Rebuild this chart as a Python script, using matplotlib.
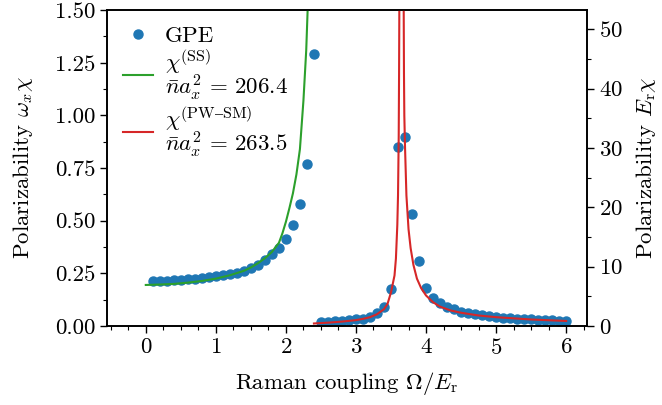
import matplotlib
matplotlib.use('Agg')
import matplotlib.pyplot as plt

plt.rcParams['font.family'] = 'serif'
plt.rcParams['font.serif'] = ['cmr10', 'DejaVu Serif']
plt.rcParams['mathtext.fontset'] = 'cm'
plt.rcParams['axes.formatter.use_mathtext'] = True
plt.rcParams['font.size'] = 16.5

# GPE polarizability (left axis units, omega_x chi)
gpe_omega_ss = [0.1, 0.2, 0.3, 0.4, 0.5, 0.6, 0.7, 0.8, 0.9, 1.0, 1.1, 1.2,
                1.3, 1.4, 1.5, 1.6, 1.7, 1.8, 1.9, 2.0, 2.1, 2.2, 2.3, 2.4]
gpe_chi_ss = [0.214, 0.214, 0.215, 0.217, 0.220, 0.222, 0.225, 0.228, 0.231,
              0.236, 0.241, 0.247, 0.253, 0.262, 0.275, 0.291, 0.313, 0.340,
              0.370, 0.414, 0.479, 0.580, 0.769, 1.290]
gpe_omega_pw = [2.5, 2.6, 2.7, 2.8, 2.9, 3.0, 3.1, 3.2, 3.3, 3.4, 3.5, 3.6,
                3.7, 3.8, 3.9, 4.0, 4.1, 4.2, 4.3, 4.4, 4.5, 4.6, 4.7, 4.8,
                4.9, 5.0, 5.1, 5.2, 5.3, 5.4, 5.5, 5.6, 5.7, 5.8, 5.9, 6.0]
gpe_chi_pw = [0.0175, 0.0205, 0.022, 0.025, 0.0285, 0.032, 0.035, 0.044,
              0.063, 0.092, 0.176, 0.851, 0.898, 0.532, 0.308, 0.182, 0.131,
              0.108, 0.090, 0.079, 0.068, 0.062, 0.055, 0.051, 0.046, 0.043,
              0.039, 0.036, 0.035, 0.033, 0.032, 0.030, 0.028, 0.027, 0.025,
              0.024]

# stripe-phase theory curve
ss_omega = [0.0, 0.2, 0.4, 0.6, 0.8, 1.0, 1.2, 1.4, 1.5, 1.6, 1.7, 1.8, 1.9,
            1.95, 2.0, 2.05, 2.1, 2.15, 2.2, 2.25, 2.29, 2.31, 2.34]
ss_chi = [0.195, 0.197, 0.200, 0.206, 0.214, 0.225, 0.241, 0.262, 0.278,
          0.298, 0.322, 0.352, 0.395, 0.440, 0.495, 0.560, 0.630, 0.720,
          0.840, 1.070, 1.310, 1.500, 2.000]

# plane-wave / single-minimum theory curve, two branches around the pole
pw_omega = [2.4, 2.6, 2.8, 3.0, 3.1, 3.2, 3.3, 3.4, 3.45, 3.5, 3.55, 3.57,
            3.59, 3.6, 3.61, 3.615, 3.62, 3.63, 3.67, 3.68, 3.685, 3.69,
            3.7, 3.72, 3.75, 3.78, 3.82, 3.87, 3.93, 4.0, 4.1, 4.2, 4.35,
            4.5, 4.75, 5.0, 5.5, 6.0]
pw_chi = [0.012, 0.016, 0.021, 0.028, 0.034, 0.042, 0.056, 0.080, 0.105,
          0.160, 0.240, 0.320, 0.480, 0.620, 0.900, 1.200, 1.600, 3.000,
          3.000, 1.600, 1.200, 1.000, 0.850, 0.620, 0.460, 0.370, 0.290,
          0.225, 0.180, 0.145, 0.113, 0.092, 0.074, 0.063, 0.050, 0.042,
          0.031, 0.024]

yl_left = (0, 1.5)
yl_right = (0, 53.2)

fig = plt.figure(figsize=(6.62, 4.05), dpi=100)
ax = fig.add_axes([0.162, 0.195, 0.725, 0.780])

ax.plot(gpe_omega_ss + gpe_omega_pw, gpe_chi_ss + gpe_chi_pw, 'o',
        color='#1f77b4', ms=6.5, label='GPE', zorder=2)
ax.plot(ss_omega, ss_chi, color='#2ca02c', lw=1.5, zorder=3,
        label='$\\chi^{(\\mathrm{SS})}$\n$\\bar{n}a_x^2\\,=\\,206.4$')
ax.plot(pw_omega, pw_chi, color='#d62728', lw=1.5, zorder=3,
        label='$\\chi^{(\\mathrm{PW\u2013SM})}$\n$\\bar{n}a_x^2\\,=\\,263.5$')

ax.set_xlim(-0.55, 6.3)
ax.set_ylim(*yl_left)
ax.set_xticks([0, 1, 2, 3, 4, 5, 6])
ax.set_xticks([i * 0.25 for i in range(-2, 26)], minor=True)
ax.set_yticks([0, 0.25, 0.5, 0.75, 1.0, 1.25, 1.5])
ax.set_yticks([i * 0.125 for i in range(13)], minor=True)
ax.yaxis.set_major_formatter(matplotlib.ticker.FormatStrFormatter('%.2f'))
ax.tick_params(which='major', length=5, width=1)
ax.tick_params(which='minor', length=3, width=0.8)
ax.set_xlabel('Raman coupling $\\Omega/E_\\mathrm{r}$', labelpad=9)
ax.set_ylabel('Polarizability $\\omega_x\\chi$', labelpad=14)

ax2 = ax.twinx()
ax2.set_ylim(*yl_right)
ax2.set_yticks([0, 10, 20, 30, 40, 50])
ax2.set_yticks(list(range(0, 55, 5)), minor=True)
ax2.tick_params(which='major', length=5, width=1)
ax2.tick_params(which='minor', length=3, width=0.8)
ax2.set_ylabel('Polarizability $E_\\mathrm{r}\\chi$', labelpad=8)

for a in (ax, ax2):
    for s in a.spines.values():
        s.set_linewidth(1.2)

leg = ax.legend(loc='upper left', frameon=False, handlelength=1.3,
                borderaxespad=0.3, labelspacing=0.05, handletextpad=0.5)
for t in leg.get_texts():
    t.set_linespacing(0.85)

fig.savefig('out.png', dpi=100)
